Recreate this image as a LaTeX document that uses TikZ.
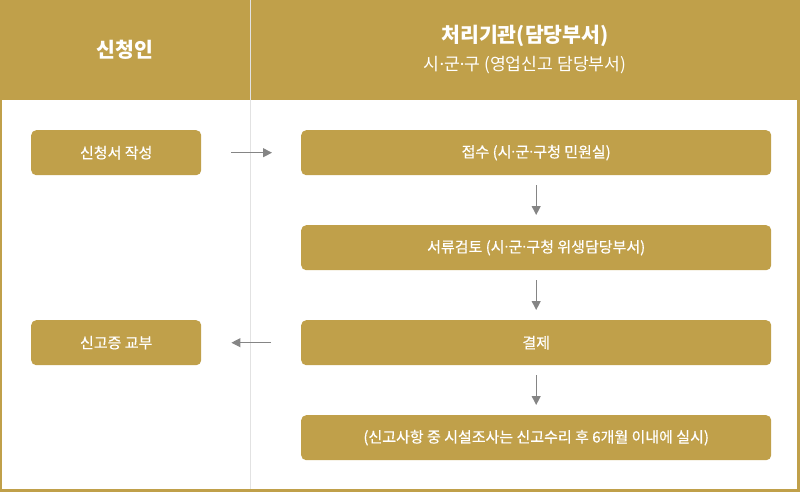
\documentclass[tikz,border=0pt]{standalone}
\usepackage{fontspec}
\setmainfont{Noto Sans CJK KR}
\newfontfamily\krmed[FakeBold=0.6]{Noto Sans CJK KR}
\newfontfamily\latinf{Noto Sans}
\usetikzlibrary{arrows.meta}
\definecolor{gold}{HTML}{C0A04A}
\definecolor{arrowgray}{HTML}{858585}
\definecolor{divgray}{HTML}{E2E2E2}
\newcommand{\md}{{\latinf ·}}
\tikzset{
  stepbox/.style={fill=gold, rounded corners=5pt, text=white, font=\krmed\fontsize{15}{17}\selectfont, inner sep=0pt, anchor=north west},
  flowarrow/.style={draw=arrowgray, line width=1pt, -{Triangle[length=9pt,width=9pt]}},
}
\begin{document}
\begin{tikzpicture}[x=1pt,y=-1pt]
\useasboundingbox (0,0) rectangle (800,492);
% header
\fill[gold] (0,0) rectangle (800,100);
% border
\fill[gold] (0,100) rectangle (2,492);
\fill[gold] (797,100) rectangle (800,492);
\fill[gold] (0,489) rectangle (800,492);
% divider
\draw[divgray, line width=1pt] (250.5,0) -- (250.5,489);
% header texts
\node[text=white, font=\fontsize{20.5}{22}\selectfont\bfseries] (h1) at (125,50) {신청인};
\node[text=white, font=\fontsize{20.5}{22}\selectfont\bfseries] (h2) at (525,36) {처리기관(담당부서)};
\node[text=white, font=\fontsize{17.2}{19}\selectfont] (h3) at (525,65) {시\md 군\md 구 (영업신고 담당부서)};
% boxes
\node[stepbox, minimum width=170pt, minimum height=45pt] (l1) at (31,130) {신청서 작성};
\node[stepbox, minimum width=170pt, minimum height=45pt] (l2) at (31,320) {신고증 교부};
\node[stepbox, minimum width=470pt, minimum height=45pt] (r1) at (301,130) {접수 (시\md 군\md 구청 민원실)};
\node[stepbox, minimum width=470pt, minimum height=45pt] (r2) at (301,225) {서류검토 (시\md 군\md 구청 위생담당부서)};
\node[stepbox, minimum width=470pt, minimum height=45pt] (r3) at (301,320) {결제};
\node[stepbox, minimum width=470pt, minimum height=45pt] (r4) at (301,415) {(신고사항 중 시설조사는 신고수리 후 6개월 이내에 실시)};
% arrows
\draw[flowarrow] ([xshift=30pt]l1.east) -- ([xshift=-29pt]r1.west);
\draw[flowarrow] ([xshift=-30pt]r3.west) -- ([xshift=30pt]l2.east);
\draw[flowarrow] ([yshift=-10pt]r1.south) -- ([yshift=10pt]r2.north);
\draw[flowarrow] ([yshift=-10pt]r2.south) -- ([yshift=10pt]r3.north);
\draw[flowarrow] ([yshift=-10pt]r3.south) -- ([yshift=10pt]r4.north);
\end{tikzpicture}
\end{document}
